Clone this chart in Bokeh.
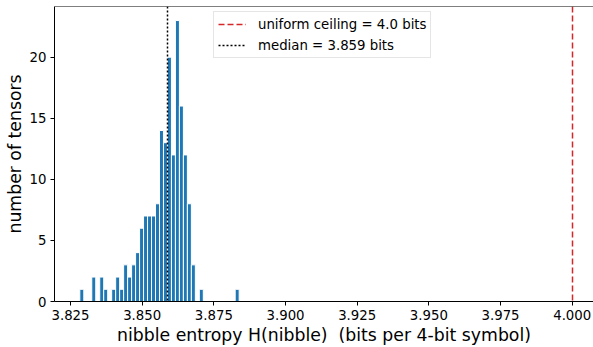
import numpy as np
from bokeh.plotting import figure
from bokeh.models import ColumnDataSource, FixedTicker, Range1d, Legend, LegendItem, Span, NumeralTickFormatter
from bokeh.embed import file_html
from bokeh.resources import INLINE

# Histogram of per-tensor nibble entropy (40 equal bins)
bin_lo = 3.82825
bin_hi = 3.88383
n_bins = 40
counts = [1, 0, 0, 2, 0, 2, 1, 0, 1, 2,
          1, 3, 2, 3, 4, 6, 7, 7, 7, 8,
          14, 13, 20, 12, 23, 16, 12, 8, 3, 0,
          1, 0, 0, 0, 0, 0, 0, 0, 0, 1]
uniform_ceiling = 4.0
median_value = 3.859
x_ticks = [3.825, 3.850, 3.875, 3.900, 3.925, 3.950, 3.975, 4.000]
y_ticks = [0, 5, 10, 15, 20]

edges = np.linspace(bin_lo, bin_hi, n_bins + 1)
src = ColumnDataSource(dict(left=edges[:-1], right=edges[1:],
                            top=counts, bottom=[0] * n_bins))

FONT = "DejaVu Sans"
Y_TOP = 24.15

p = figure(width=593, height=347, output_backend="svg", toolbar_location=None,
           x_range=Range1d(3.81942, 4.00742), y_range=Range1d(0, Y_TOP),
           min_border_left=54, min_border_right=0, min_border_top=6,
           min_border_bottom=46)
p.outline_line_color = None
p.grid.visible = False
p.background_fill_color = "white"

p.quad(left="left", right="right", top="top", bottom="bottom", source=src,
       fill_color="#1f77b4", line_color="white", line_width=1)

r_ceiling = p.vspan(x=[uniform_ceiling], line_color="#d62728", line_width=1.5,
                    line_dash="6 3")
r_median = p.vspan(x=[median_value], line_color="black", line_width=1.5,
                   line_dash="2 2")

# top spine
p.add_layout(Span(location=Y_TOP, dimension="width", line_color="black", line_width=1))

legend = Legend(items=[
    LegendItem(label="uniform ceiling = 4.0 bits", renderers=[r_ceiling]),
    LegendItem(label="median = 3.859 bits", renderers=[r_median]),
], location=(159, 243))
legend.label_text_font = FONT
legend.label_text_font_size = "13.3px"
legend.label_text_color = "black"
legend.label_height = 16
legend.glyph_height = 16
legend.glyph_width = 28
legend.label_standoff = 12
legend.spacing = 5
legend.padding = 4
legend.margin = 0
legend.border_line_color = "#cccccc"
legend.border_line_width = 1
legend.background_fill_alpha = 0.8
p.add_layout(legend)

for ax in (p.xaxis[0], p.yaxis[0]):
    ax.major_label_text_font = FONT
    ax.major_label_text_font_size = "13.3px"
    ax.major_label_text_color = "black"
    ax.axis_label_text_font = FONT
    ax.axis_label_text_font_size = "17.3px"
    ax.axis_label_text_font_style = "normal"
    ax.axis_label_text_color = "black"
    ax.major_tick_in = 0
    ax.major_tick_out = 4
    ax.minor_tick_out = 0
    ax.minor_tick_in = 0
    ax.axis_line_color = "black"
    ax.major_tick_line_color = "black"
    ax.major_label_standoff = 4

p.xaxis.ticker = FixedTicker(ticks=x_ticks)
p.xaxis.formatter = NumeralTickFormatter(format="0.000")
p.xaxis.axis_label = "nibble entropy H(nibble) \u00a0(bits per 4-bit symbol)"
p.xaxis.axis_label_standoff = 2
p.yaxis.ticker = FixedTicker(ticks=y_ticks)
p.yaxis.axis_label = "number of tensors"
p.yaxis.axis_label_standoff = 2

open("out.html", "w").write(file_html(p, INLINE))
